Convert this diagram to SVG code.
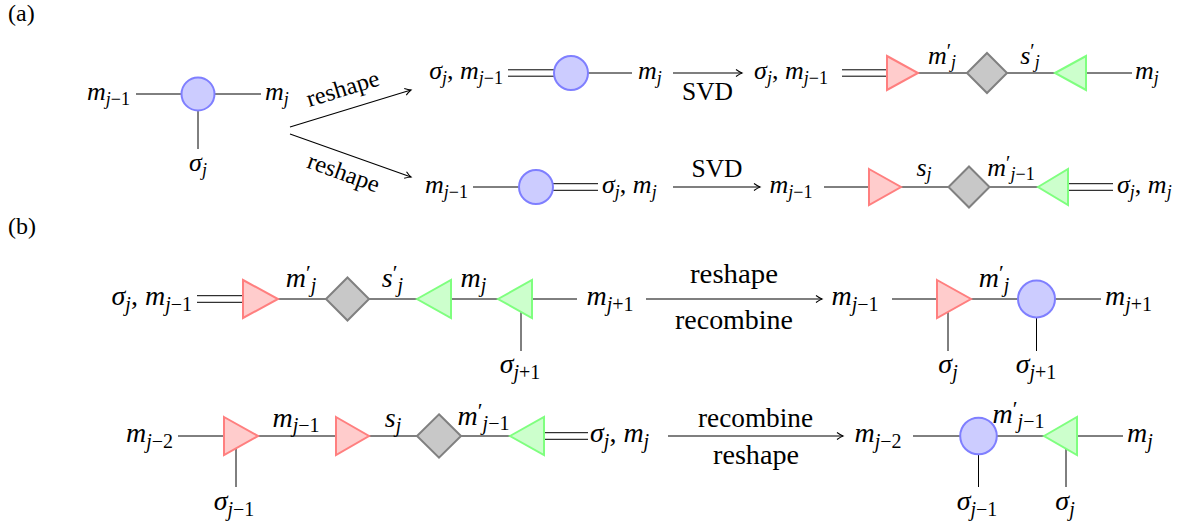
<svg xmlns="http://www.w3.org/2000/svg" width="1191" height="529" viewBox="0 0 1191 529">
<style>
text{font-family:"Liberation Serif","Times New Roman",serif;fill:#000}
.fa{font-size:26px}.fb{font-size:28px}.fw{font-size:24px}.fv{font-size:26px}
.sa{font-size:18px}.sb{font-size:20px}
.pa{font-size:20px}.pb{font-size:22px}
.i{font-style:italic}
.m{text-anchor:middle}.r{text-anchor:end}
.e{stroke:#000;stroke-width:1;fill:none}
.ar{stroke:#000;stroke-width:1.1;fill:none;marker-end:url(#ah)}
.circ{fill:#ccccff;stroke:#7f7fff;stroke-width:2}
.red{fill:#ffcccc;stroke:#ff7f7f;stroke-width:2}
.grn{fill:#ccffcc;stroke:#7fff7f;stroke-width:2}
.dia{fill:#c8c8c8;stroke:#808080;stroke-width:2}
</style>
<defs>
<marker id="ah" viewBox="-8 -5 10 10" refX="0" refY="0" markerWidth="10" markerHeight="10" markerUnits="userSpaceOnUse" orient="auto">
<path d="M-6,-3.5 Q-2.5,-1 0,0 Q-2.5,1 -6,3.5" fill="none" stroke="#000" stroke-width="1.1"/>
</marker>
</defs>
<rect width="1191" height="529" fill="#fff"/>

<g id="connectors">
<line class="e" x1="136" y1="94" x2="182" y2="94"/>
<line class="e" x1="215" y1="94" x2="261" y2="94"/>
<line class="e" x1="198" y1="111" x2="198" y2="149"/>
<line class="ar" x1="290" y1="127" x2="411" y2="90"/>
<line class="ar" x1="290" y1="134" x2="411" y2="177"/>
<line class="e" x1="508" y1="69.8" x2="554" y2="69.8"/>
<line class="e" x1="508" y1="76.2" x2="554" y2="76.2"/>
<line class="e" x1="588" y1="73" x2="632" y2="73"/>
<line class="ar" x1="673" y1="73" x2="742" y2="73"/>
<line class="e" x1="842" y1="69.8" x2="887" y2="69.8"/>
<line class="e" x1="842" y1="76.2" x2="887" y2="76.2"/>
<line class="e" x1="918" y1="73" x2="967" y2="73"/>
<line class="e" x1="1007" y1="73" x2="1055" y2="73"/>
<line class="e" x1="1086" y1="73" x2="1132" y2="73"/>
<line class="e" x1="473" y1="187" x2="519" y2="187"/>
<line class="e" x1="553" y1="183.7" x2="598" y2="183.7"/>
<line class="e" x1="553" y1="190.3" x2="598" y2="190.3"/>
<line class="ar" x1="673" y1="187" x2="760" y2="187"/>
<line class="e" x1="824" y1="187" x2="869" y2="187"/>
<line class="e" x1="901" y1="187" x2="948" y2="187"/>
<line class="e" x1="989" y1="187" x2="1038" y2="187"/>
<line class="e" x1="1068" y1="183.7" x2="1113" y2="183.7"/>
<line class="e" x1="1068" y1="190.3" x2="1113" y2="190.3"/>
<line class="e" x1="197" y1="295.7" x2="243" y2="295.7"/>
<line class="e" x1="197" y1="302.3" x2="243" y2="302.3"/>
<line class="e" x1="278" y1="299" x2="326" y2="299"/>
<line class="e" x1="369" y1="299" x2="417" y2="299"/>
<line class="e" x1="451" y1="299" x2="498" y2="299"/>
<line class="e" x1="532" y1="299" x2="577" y2="299"/>
<line class="e" x1="521" y1="312" x2="521" y2="351"/>
<line class="ar" x1="646" y1="299" x2="822" y2="299"/>
<line class="e" x1="892" y1="299" x2="937" y2="299"/>
<line class="e" x1="948" y1="312" x2="948" y2="351"/>
<line class="e" x1="971" y1="299" x2="1018" y2="299"/>
<line class="e" x1="1036.5" y1="317.5" x2="1036.5" y2="351"/>
<line class="e" x1="1055" y1="299" x2="1101" y2="299"/>
<line class="e" x1="178" y1="436" x2="224" y2="436"/>
<line class="e" x1="236" y1="448.5" x2="236" y2="487"/>
<line class="e" x1="258" y1="436" x2="336" y2="436"/>
<line class="e" x1="369" y1="436" x2="417" y2="436"/>
<line class="e" x1="461" y1="436" x2="510" y2="436"/>
<line class="e" x1="544" y1="432.7" x2="588" y2="432.7"/>
<line class="e" x1="544" y1="439.3" x2="588" y2="439.3"/>
<line class="ar" x1="668" y1="436" x2="843" y2="436"/>
<line class="e" x1="913" y1="436" x2="960" y2="436"/>
<line class="e" x1="978.5" y1="454.3" x2="978.5" y2="487"/>
<line class="e" x1="997" y1="436" x2="1044" y2="436"/>
<line class="e" x1="1066" y1="448.7" x2="1066" y2="487"/>
<line class="e" x1="1077" y1="436" x2="1123" y2="436"/>
</g>

<g id="a-tensor"><circle class="circ" cx="198" cy="94" r="16.5"/></g>
<g id="a-up-tensor"><circle class="circ" cx="571" cy="73" r="17"/></g>
<g id="a-up-U"><polygon class="red" points="887,56 918,73 887,90"/></g>
<g id="a-up-S"><polygon class="dia" points="987,53 1007,73 987,93 967,73"/></g>
<g id="a-up-V"><polygon class="grn" points="1055,73 1086,56 1086,90"/></g>
<g id="a-lo-tensor"><circle class="circ" cx="536" cy="187" r="17"/></g>
<g id="a-lo-U"><polygon class="red" points="869,169 901,187 869,205"/></g>
<g id="a-lo-S"><polygon class="dia" points="969,166.5 989.5,187 969,207.5 948.5,187"/></g>
<g id="a-lo-V"><polygon class="grn" points="1038,187 1068,169 1068,205"/></g>

<g id="b1-U"><polygon class="red" points="243,280 278,299 243,318"/></g>
<g id="b1-S"><polygon class="dia" points="347.5,277.5 369,299 347.5,320.5 326,299"/></g>
<g id="b1-V"><polygon class="grn" points="417,299 451,280 451,318"/></g>
<g id="b1-B"><polygon class="grn" points="498,299 532,280 532,318"/></g>
<g id="b1-A"><polygon class="red" points="937,280 971,299 937,318"/></g>
<g id="b1-T"><circle class="circ" cx="1036.5" cy="299" r="18.5"/></g>

<g id="b2-A"><polygon class="red" points="224,417 258,436 224,455"/></g>
<g id="b2-U"><polygon class="red" points="336,417 369,436 336,455"/></g>
<g id="b2-S"><polygon class="dia" points="439,414.3 461,436 439,457.7 417,436"/></g>
<g id="b2-V"><polygon class="grn" points="510,436 544,417 544,455"/></g>
<g id="b2-T"><circle class="circ" cx="978.5" cy="436" r="18.3"/></g>
<g id="b2-B"><polygon class="grn" points="1044,436 1077,417 1077,455"/></g>

<g id="labels">
<text class="fw" x="8" y="21">(a)</text>
<text class="fw" x="8" y="234">(b)</text>

<text class="fa r" x="130" y="100"><tspan class="i">m</tspan><tspan class="sa" dy="5"><tspan class="i">j</tspan>−1</tspan></text>
<text class="fa" x="265" y="100"><tspan class="i">m</tspan><tspan class="sa i" dy="5">j</tspan></text>
<text class="fa m" x="198" y="171"><tspan class="i">σ</tspan><tspan class="sa i" dy="5">j</tspan></text>
<text class="fw" x="345" y="96" text-anchor="middle" textLength="75" lengthAdjust="spacingAndGlyphs" transform="rotate(-17.2 345 96)">reshape</text>
<text class="fw" x="341" y="180" text-anchor="middle" textLength="75" lengthAdjust="spacingAndGlyphs" transform="rotate(19.7 341 180)">reshape</text>

<text class="fa r" x="503" y="79"><tspan class="i">σ</tspan><tspan class="sa i" dy="5">j</tspan><tspan dy="-5">, </tspan><tspan class="i">m</tspan><tspan class="sa" dy="5"><tspan class="i">j</tspan>−1</tspan></text>
<text class="fa" x="638" y="79"><tspan class="i">m</tspan><tspan class="sa i" dy="5">j</tspan></text>
<text class="fv" x="707.5" y="99.5" text-anchor="middle" textLength="51" lengthAdjust="spacingAndGlyphs">SVD</text>
<text class="fa m" x="791" y="79"><tspan class="i">σ</tspan><tspan class="sa i" dy="5">j</tspan><tspan dy="-5">, </tspan><tspan class="i">m</tspan><tspan class="sa" dy="5"><tspan class="i">j</tspan>−1</tspan></text>
<text class="fa m" x="942" y="64"><tspan class="i">m</tspan><tspan class="pa" dy="-6">′</tspan><tspan class="sa i" dy="10">j</tspan></text>
<text class="fa m" x="1030" y="64"><tspan class="i">s</tspan><tspan class="pa" dy="-6">′</tspan><tspan class="sa i" dy="10">j</tspan></text>
<text class="fa" x="1135" y="79"><tspan class="i">m</tspan><tspan class="sa i" dy="5">j</tspan></text>

<text class="fa r" x="468" y="193"><tspan class="i">m</tspan><tspan class="sa" dy="5"><tspan class="i">j</tspan>−1</tspan></text>
<text class="fa" x="602" y="193"><tspan class="i">σ</tspan><tspan class="sa i" dy="5">j</tspan><tspan dy="-5">, </tspan><tspan class="i">m</tspan><tspan class="sa i" dy="5">j</tspan></text>
<text class="fv" x="717" y="177" text-anchor="middle" textLength="51" lengthAdjust="spacingAndGlyphs">SVD</text>
<text class="fa m" x="791" y="193"><tspan class="i">m</tspan><tspan class="sa" dy="5"><tspan class="i">j</tspan>−1</tspan></text>
<text class="fa m" x="924" y="176"><tspan class="i">s</tspan><tspan class="sa i" dy="4">j</tspan></text>
<text class="fa m" x="1011" y="176"><tspan class="i">m</tspan><tspan class="pa" dy="-6">′</tspan><tspan class="sa" dy="10"><tspan class="i">j</tspan>−1</tspan></text>
<text class="fa" x="1117" y="193"><tspan class="i">σ</tspan><tspan class="sa i" dy="5">j</tspan><tspan dy="-5">, </tspan><tspan class="i">m</tspan><tspan class="sa i" dy="5">j</tspan></text>

<text class="fb r" x="192" y="305"><tspan class="i">σ</tspan><tspan class="sb i" dy="6">j</tspan><tspan dy="-6">, </tspan><tspan class="i">m</tspan><tspan class="sb" dy="6"><tspan class="i">j</tspan>−1</tspan></text>
<text class="fb m" x="301" y="287"><tspan class="i">m</tspan><tspan class="pb" dy="-7">′</tspan><tspan class="sb i" dy="12">j</tspan></text>
<text class="fb m" x="392.5" y="287"><tspan class="i">s</tspan><tspan class="pb" dy="-7">′</tspan><tspan class="sb i" dy="12">j</tspan></text>
<text class="fb m" x="473.5" y="287"><tspan class="i">m</tspan><tspan class="sb i" dy="5">j</tspan></text>
<text class="fb m" x="610" y="305"><tspan class="i">m</tspan><tspan class="sb" dy="6"><tspan class="i">j</tspan>+1</tspan></text>
<text class="fb m" x="520" y="373"><tspan class="i">σ</tspan><tspan class="sb" dy="6"><tspan class="i">j</tspan>+1</tspan></text>
<text class="fb" x="734" y="283" text-anchor="middle" textLength="88" lengthAdjust="spacingAndGlyphs">reshape</text>
<text class="fb" x="734" y="329" text-anchor="middle" textLength="118" lengthAdjust="spacingAndGlyphs">recombine</text>
<text class="fb m" x="855" y="305"><tspan class="i">m</tspan><tspan class="sb" dy="6"><tspan class="i">j</tspan>−1</tspan></text>
<text class="fb m" x="994" y="287"><tspan class="i">m</tspan><tspan class="pb" dy="-7">′</tspan><tspan class="sb i" dy="12">j</tspan></text>
<text class="fb" x="1105" y="305"><tspan class="i">m</tspan><tspan class="sb" dy="6"><tspan class="i">j</tspan>+1</tspan></text>
<text class="fb m" x="948" y="373"><tspan class="i">σ</tspan><tspan class="sb i" dy="6">j</tspan></text>
<text class="fb m" x="1036" y="373"><tspan class="i">σ</tspan><tspan class="sb" dy="6"><tspan class="i">j</tspan>+1</tspan></text>

<text class="fb r" x="173" y="442"><tspan class="i">m</tspan><tspan class="sb" dy="6"><tspan class="i">j</tspan>−2</tspan></text>
<text class="fb m" x="234" y="510"><tspan class="i">σ</tspan><tspan class="sb" dy="6"><tspan class="i">j</tspan>−1</tspan></text>
<text class="fb m" x="296" y="427"><tspan class="i">m</tspan><tspan class="sb" dy="5"><tspan class="i">j</tspan>−1</tspan></text>
<text class="fb m" x="393" y="427"><tspan class="i">s</tspan><tspan class="sb i" dy="5">j</tspan></text>
<text class="fb m" x="483.5" y="425"><tspan class="i">m</tspan><tspan class="pb" dy="-7">′</tspan><tspan class="sb" dy="12"><tspan class="i">j</tspan>−1</tspan></text>
<text class="fb" x="590" y="442"><tspan class="i">σ</tspan><tspan class="sb i" dy="6">j</tspan><tspan dy="-6">, </tspan><tspan class="i">m</tspan><tspan class="sb i" dy="6">j</tspan></text>
<text class="fb" x="755.5" y="427" text-anchor="middle" textLength="115" lengthAdjust="spacingAndGlyphs">recombine</text>
<text class="fb" x="756" y="464" text-anchor="middle" textLength="86" lengthAdjust="spacingAndGlyphs">reshape</text>
<text class="fb m" x="878" y="442"><tspan class="i">m</tspan><tspan class="sb" dy="6"><tspan class="i">j</tspan>−2</tspan></text>
<text class="fb m" x="977" y="510"><tspan class="i">σ</tspan><tspan class="sb" dy="6"><tspan class="i">j</tspan>−1</tspan></text>
<text class="fb m" x="1018.5" y="423"><tspan class="i">m</tspan><tspan class="pb" dy="-7">′</tspan><tspan class="sb" dy="12"><tspan class="i">j</tspan>−1</tspan></text>
<text class="fb m" x="1065" y="510"><tspan class="i">σ</tspan><tspan class="sb i" dy="6">j</tspan></text>
<text class="fb" x="1127" y="442"><tspan class="i">m</tspan><tspan class="sb i" dy="6">j</tspan></text>
</g>
</svg>
